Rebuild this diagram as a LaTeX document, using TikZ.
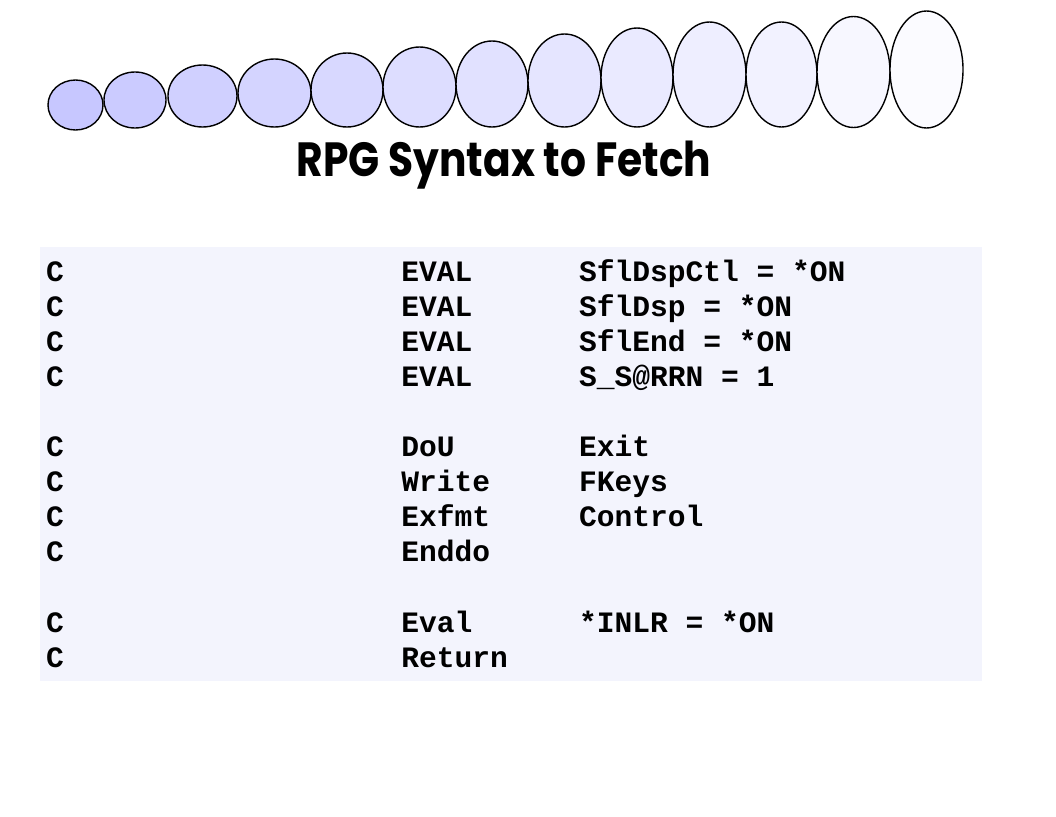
\documentclass[tikz,border=0pt]{standalone}
\usepackage{fontspec}
\usetikzlibrary{shapes.geometric}
\newfontfamily\titlefont{Poppins}
\newfontfamily\codefont{Liberation Mono}
\definecolor{panelbg}{RGB}{243,244,253}
\begin{document}
\begin{tikzpicture}
			[x=1pt,y=-1pt,
			every ellipse node/.style={draw,line width=1.4pt,inner sep=0pt},
			codetext/.style={anchor=base west,inner sep=0pt,font=\codefont\bfseries\fontsize{29.6}{35}\selectfont}]
			\useasboundingbox (0,0) rectangle (1056,816);
			\fill[panelbg] (40,247) rectangle (982,681);
			\foreach \cx/\cy/\rx/\ry [count=\i] in
			{75.5/105/27.5/25, 135/100/31/28, 202.5/96/34.5/31, 274.5/93/36.5/34,
			347/90/36/37, 419.5/87/36.5/40, 492/84/36/43, 564.5/80.5/36.5/46.5,
			637/77.5/36/49.5, 709.5/74.5/36.5/52.5, 781.5/74.5/35.5/52.5,
			853.5/72/36.5/55.5, 926.5/69.5/36.5/58.5}
			{
				\pgfmathsetmacro{\tint}{22-(\i-1)*1.7}
				\node[ellipse,fill=blue!\tint!white,minimum width=2*\rx,minimum height=2*\ry] (e\i) at (\cx,\cy) {};
			}
			\node[font=\titlefont\bfseries\fontsize{48}{58}\selectfont,anchor=base,inner sep=0pt] (title) at (504,176) {\scalebox{0.85}[1]{RPG Syntax to Fetch}};
			\foreach \row/\op/\arg in
			{0/EVAL/SflDspCtl = *ON, 1/EVAL/SflDsp = *ON, 2/EVAL/SflEnd = *ON,
			3/EVAL/S\_S@RRN = 1, 5/DoU/Exit, 6/Write/FKeys, 7/Exfmt/Control,
			8/Enddo/, 10/Eval/*INLR = *ON, 11/Return/}
			{
				\node[codetext] (c\row) at (46,281+35.1*\row) {C};
				\node[codetext] (op\row) at (46+20*17.76,281+35.1*\row) {\op};
				\node[codetext] (arg\row) at (46+30*17.76,281+35.1*\row) {\arg};
			}
		\end{tikzpicture}
\end{document}
